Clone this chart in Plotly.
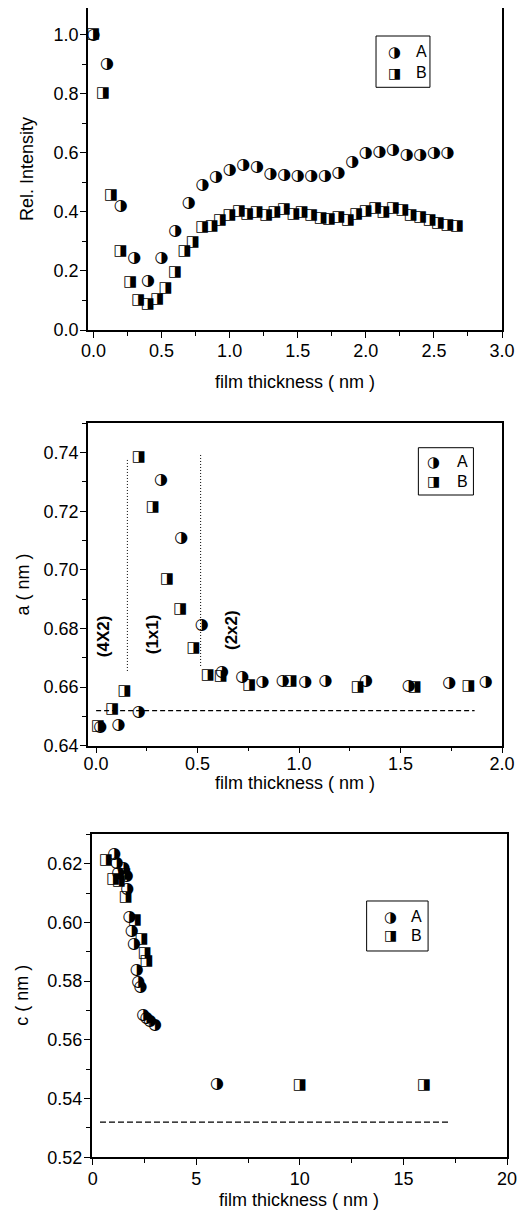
import plotly.graph_objects as go

# ---------------- data ----------------
# Panel 1: relative intensity vs film thickness
p1_a_x = [0.0, 0.1, 0.2, 0.3, 0.4, 0.5, 0.6, 0.7, 0.8, 0.9, 1.0, 1.1, 1.2, 1.3,
          1.4, 1.5, 1.6, 1.7, 1.8, 1.9, 2.0, 2.1, 2.2, 2.3, 2.4, 2.5, 2.6]
p1_a_y = [1.00, 0.90, 0.42, 0.245, 0.165, 0.245, 0.335, 0.43, 0.49, 0.518, 0.542,
          0.557, 0.553, 0.528, 0.525, 0.52, 0.52, 0.52, 0.532, 0.568, 0.598,
          0.603, 0.61, 0.593, 0.594, 0.599, 0.598]
p1_b_x = [0.0, 0.07, 0.13, 0.2, 0.27, 0.33, 0.4, 0.47, 0.53, 0.6, 0.67, 0.73,
          0.8, 0.87, 0.93, 1.0, 1.07, 1.13, 1.2, 1.27, 1.33, 1.4, 1.47, 1.53,
          1.6, 1.67, 1.73, 1.8, 1.87, 1.93, 2.0, 2.07, 2.13, 2.2, 2.27, 2.33,
          2.4, 2.47, 2.53, 2.6, 2.67]
p1_b_y = [1.00, 0.80, 0.455, 0.265, 0.16, 0.10, 0.088, 0.105, 0.141, 0.196,
          0.268, 0.296, 0.348, 0.35, 0.373, 0.387, 0.403, 0.393, 0.398, 0.39,
          0.398, 0.409, 0.393, 0.398, 0.39, 0.378, 0.375, 0.381, 0.37, 0.393,
          0.401, 0.412, 0.399, 0.412, 0.404, 0.388, 0.381, 0.373, 0.362, 0.353,
          0.35]

# Panel 2: lattice parameter a
p2_a_x = [0.02, 0.11, 0.21, 0.32, 0.42, 0.52, 0.62, 0.72, 0.82, 0.92, 1.03,
          1.13, 1.33, 1.54, 1.74, 1.92]
p2_a_y = [0.6465, 0.6471, 0.6516, 0.7308, 0.7107, 0.6813, 0.6653, 0.6636,
          0.6616, 0.6622, 0.6617, 0.6622, 0.6622, 0.6605, 0.6613, 0.6619]
p2_b_x = [0.01, 0.08, 0.14, 0.21, 0.28, 0.35, 0.415, 0.48, 0.55, 0.615, 0.755,
          0.96, 1.29, 1.57, 1.835]
p2_b_y = [0.6467, 0.6524, 0.6587, 0.7383, 0.7214, 0.6967, 0.6866, 0.6733,
          0.6639, 0.6638, 0.6606, 0.6619, 0.6600, 0.6600, 0.6602]
p2_ref_a = 0.652
p2_phase_labels = ["(4X2)", "(1x1)", "(2x2)"]
p2_phase_x = [0.036, 0.275, 0.67]
p2_phase_y = [0.6775, 0.678, 0.6795]
p2_boundary_x = [0.154, 0.515]
p2_boundary_y0 = [0.6655, 0.6672]
p2_boundary_y1 = [0.7377, 0.7392]

# Panel 3: lattice parameter c
p3_a_x = [1.04, 1.16, 1.23, 1.48, 1.64, 1.67, 1.77, 1.88, 1.99, 2.12, 2.2,
          2.31, 2.44, 2.6, 2.76, 3.0, 6.0]
p3_a_y = [0.6232, 0.6203, 0.6169, 0.6186, 0.6158, 0.6115, 0.6019, 0.597,
          0.5925, 0.5837, 0.5796, 0.5781, 0.5686, 0.5674, 0.5663, 0.5652, 0.545]
p3_b_x = [0.64, 0.99, 1.27, 1.54, 1.6, 2.04, 2.36, 2.52, 2.6, 10.0, 16.0]
p3_b_y = [0.6211, 0.6146, 0.6141, 0.6163, 0.6087, 0.6008, 0.5942, 0.5896,
          0.5868, 0.5445, 0.5445]
p3_ref_c = 0.532

series_names = ["A", "B"]
glyphs = ["\u25D1", "\u25E8"]  # circle / square with right half black
x_title = "film thickness ( nm )"
y_titles = ["Rel. Intensity", "a ( nm )", "c ( nm )"]

# ---------------- figure ----------------
PAGE_MARGIN = 8          # default body margin of the page
W, H = 529 - PAGE_MARGIN, 1220 - PAGE_MARGIN
FONT = "Liberation Sans, Arial, Helvetica, sans-serif"
GLYPH_FONT = "DejaVu Sans"
TICK_SIZE = 18
TITLE_SIZE = 18
GLYPH_SIZES = [16, 15]

fig = go.Figure()


def add_series(x, y, k, n):
    suffix = "" if n == 1 else str(n)
    fig.add_trace(go.Scatter(
        x=x, y=y, mode="text", text=[glyphs[k]] * len(x),
        textposition="middle center",
        textfont=dict(family=GLYPH_FONT, size=GLYPH_SIZES[k], color="black"),
        xaxis="x" + suffix, yaxis="y" + suffix, name=series_names[k],
        showlegend=False, hoverinfo="skip"))


add_series(p1_a_x, p1_a_y, 0, 1)
add_series(p1_b_x, p1_b_y, 1, 1)
add_series(p2_a_x, p2_a_y, 0, 2)
add_series(p2_b_x, p2_b_y, 1, 2)
add_series(p3_a_x, p3_a_y, 0, 3)
add_series(p3_b_x, p3_b_y, 1, 3)


def px_x(p):
    return (p - PAGE_MARGIN) / W


def px_y(p):
    return 1 - (p - PAGE_MARGIN) / H


def axis(domain, rng, dtick, minor_dtick, fmt, anchor, standoff):
    return dict(
        domain=domain, range=rng, dtick=dtick, tick0=0, tickformat=fmt,
        showline=True, linecolor="black", linewidth=1.5, mirror=True,
        ticks="outside", ticklen=6, tickwidth=1.3, tickcolor="black",
        minor=dict(ticks="outside", ticklen=4, tickwidth=1.2,
                   tickcolor="black", dtick=minor_dtick, showgrid=False),
        showgrid=False, zeroline=False, anchor=anchor,
        ticklabelstandoff=standoff,
        tickfont=dict(family=FONT, size=TICK_SIZE, color="black"),
        automargin=False,
    )


# panel boxes in page pixels: (left, right, top, bottom)
boxes = [(88, 502, 8, 330), (88, 502, 423.3, 745.7), (91.7, 507, 834.3, 1157.3)]
x_title_y = [382, 783, 1200]
y_title_x = [27, 23, 22]

layout = dict(
    width=W, height=H, paper_bgcolor="white", plot_bgcolor="white",
    margin=dict(l=0, r=0, t=0, b=0), showlegend=False,
    xaxis=axis([px_x(boxes[0][0]), px_x(boxes[0][1])], [-0.04, 3.0], 0.5, 0.25, ".1f", "y", -2),
    yaxis=axis([px_y(boxes[0][3]), px_y(boxes[0][2])], [0, 1.09], 0.2, 0.1, ".1f", "x", -2),
    xaxis2=axis([px_x(boxes[1][0]), px_x(boxes[1][1])], [-0.04, 2.0], 0.5, 0.25, ".1f", "y2", -5),
    yaxis2=axis([px_y(boxes[1][3]), px_y(boxes[1][2])], [0.64, 0.75], 0.02, 0.01, ".2f", "x2", -2),
    xaxis3=axis([px_x(boxes[2][0]), px_x(boxes[2][1])], [-0.05, 20], 5, 2.5, "d", "y3", -2),
    yaxis3=axis([px_y(boxes[2][3]), px_y(boxes[2][2])], [0.52, 0.63], 0.02, 0.01, ".2f", "x3", -2),
)
fig.update_layout(**layout)

shapes = []
annotations = []

# axis titles
for (l, r, t, b), ty, tx, yt in zip(boxes, x_title_y, y_title_x, y_titles):
    annotations.append(dict(xref="paper", yref="paper", x=px_x((l + r) / 2), y=px_y(ty),
                            text=x_title, showarrow=False, xanchor="center",
                            yanchor="middle",
                            font=dict(family=FONT, size=TITLE_SIZE, color="black")))
    annotations.append(dict(xref="paper", yref="paper", x=px_x(tx), y=px_y((t + b) / 2),
                            text=yt, showarrow=False, textangle=-90,
                            xanchor="center", yanchor="middle",
                            font=dict(family=FONT, size=TITLE_SIZE, color="black")))

# reference lines
shapes.append(dict(type="line", xref="x2", yref="y2", x0=0.0, x1=1.865,
                   y0=p2_ref_a, y1=p2_ref_a,
                   line=dict(color="black", width=1.2, dash="5px,3px")))
for bx, by0, by1 in zip(p2_boundary_x, p2_boundary_y0, p2_boundary_y1):
    shapes.append(dict(type="line", xref="x2", yref="y2", x0=bx, x1=bx,
                       y0=by0, y1=by1,
                       line=dict(color="black", width=1, dash="1px,2px")))
shapes.append(dict(type="line", xref="x3", yref="y3", x0=0.35, x1=17.25,
                   y0=p3_ref_c, y1=p3_ref_c,
                   line=dict(color="black", width=1.2, dash="6px,3px")))

for lab, lx, ly in zip(p2_phase_labels, p2_phase_x, p2_phase_y):
    annotations.append(dict(xref="x2", yref="y2", x=lx, y=ly,
                            text="<b>%s</b>" % lab, textangle=-90,
                            showarrow=False, xanchor="center", yanchor="middle",
                            borderpad=0,
                            font=dict(family=FONT, size=17, color="black")))

# legends (box + glyph + name), in axis-domain coordinates
legend_specs = [
    ("x", "y", (0.6957, 0.826), (0.7537, 0.913), 0.7415, 0.806, (0.8643, 0.799)),
    ("x2", "y2", (0.798, 0.931), (0.7776, 0.9243), 0.8357, 0.905, (0.881, 0.821)),
    ("x3", "y3", (0.662, 0.810), (0.6387, 0.7935), 0.7183, 0.781, (0.745, 0.688)),
]
for xa, ya, bx, by, gx, tx, rows in legend_specs:
    shapes.append(dict(type="rect", xref=xa + " domain", yref=ya + " domain",
                       x0=bx[0], x1=bx[1], y0=by[0], y1=by[1],
                       line=dict(color="black", width=1), fillcolor="white",
                       layer="below"))
    for k, (g, name, ry) in enumerate(zip(glyphs, series_names, rows)):
        annotations.append(dict(xref=xa + " domain", yref=ya + " domain",
                                x=gx, y=ry, text=g, showarrow=False,
                                xanchor="center", yanchor="middle",
                                font=dict(family=GLYPH_FONT, size=GLYPH_SIZES[k] - 1,
                                          color="black")))
        annotations.append(dict(xref=xa + " domain", yref=ya + " domain",
                                x=tx, y=ry, text=name, showarrow=False,
                                xanchor="center", yanchor="middle",
                                font=dict(family=FONT, size=16, color="black")))

fig.update_layout(shapes=shapes, annotations=annotations)
fig.write_html("out.html")
